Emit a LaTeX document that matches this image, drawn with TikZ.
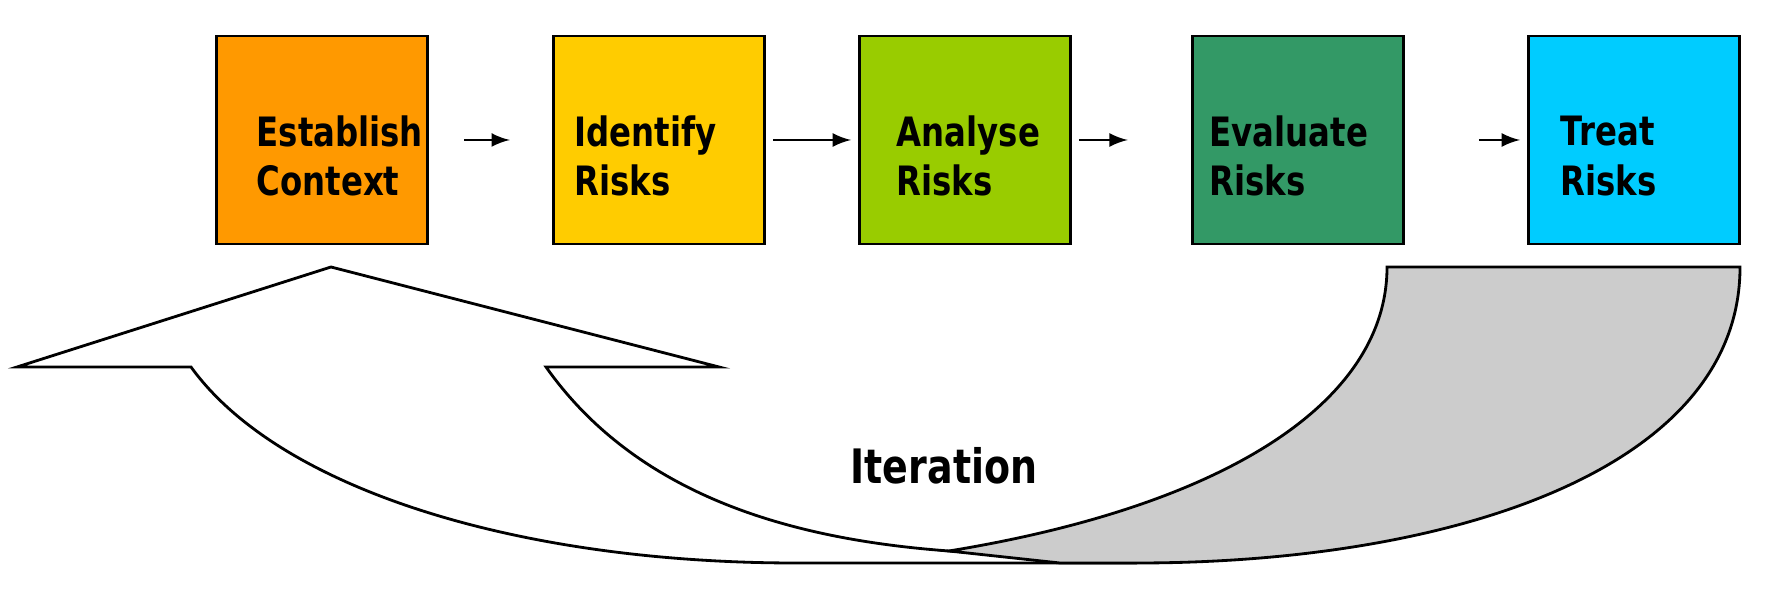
\documentclass[tikz,border=0pt]{standalone}
\usepackage{fontspec}
\setmainfont{DejaVu Sans}[FakeStretch=0.8]
\usetikzlibrary{positioning}

\definecolor{cEst}{HTML}{FF9900}
\definecolor{cIde}{HTML}{FFCC00}
\definecolor{cAna}{HTML}{99CC00}
\definecolor{cEva}{HTML}{339966}
\definecolor{cTre}{HTML}{00CCFF}
\definecolor{cBack}{HTML}{CCCCCC}

\begin{document}
\begin{tikzpicture}[x=0.01cm, y=-0.01cm,
    % Styles
    phase/.style={draw=black, thick, minimum width=2.11cm, minimum height=2.08cm, inner sep=0pt},
    phasetext/.style={anchor=west, font=\fontsize{11.5}{14}\selectfont\bfseries, align=left, inner sep=0pt},
    arrow/.style={-latex, thick},
    band/.style={draw=black, thick, line join=miter},
]
\useasboundingbox (0,0) rectangle (1774,589);

% Iteration arrow (front)
\draw[band, fill=white] (17,367) -- (331,267) -- (719,367) -- (546,367)
    .. controls (640,500) and (800,540) .. (949,551)
    -- (1137,563) -- (796,563)
    .. controls (520,563) and (280,490) .. (191,367) -- cycle;

% Iteration arrow (back)
\draw[band, fill=cBack] (949,551) .. controls (1230,505) and (1387,400) .. (1387,267)
    -- (1740,267) .. controls (1740,470) and (1450,563) .. (1137,563)
    -- (1060,563) -- cycle;
\draw[thick] (796,563) -- (1137,563);

\node[font=\fontsize{13.5}{16}\selectfont\bfseries] (iter) at (944,466) {Iteration};

% Phases
\node[phase, fill=cEst] (est) at (322,140) {};
\node[phase, fill=cIde] (ide) at (659,140) {};
\node[phase, fill=cAna] (ana) at (965,140) {};
\node[phase, fill=cEva] (eva) at (1298,140) {};
\node[phase, fill=cTre] (tre) at (1634,140) {};

\node[phasetext] (estT) at (256,156) {Establish\\Context};
\node[phasetext] (ideT) at (574,156) {Identify\\Risks};
\node[phasetext] (anaT) at (896,156) {Analyse\\Risks};
\node[phasetext] (evaT) at (1209,156) {Evaluate\\Risks};
\node[phasetext] (treT) at (1560,156) {Treat\\Risks};

% Connectors
\draw[arrow] ([xshift=10]est.east) -- ([xshift=-12]ide.west);
\draw[arrow] ([xshift=2]ide.east) -- ([xshift=-2]ana.west);
\draw[arrow] ([xshift=2]ana.east) -- ([xshift=-18]eva.west);
\draw[arrow] ([xshift=21]eva.east) -- ([xshift=-2]tre.west);

\end{tikzpicture}
\end{document}
